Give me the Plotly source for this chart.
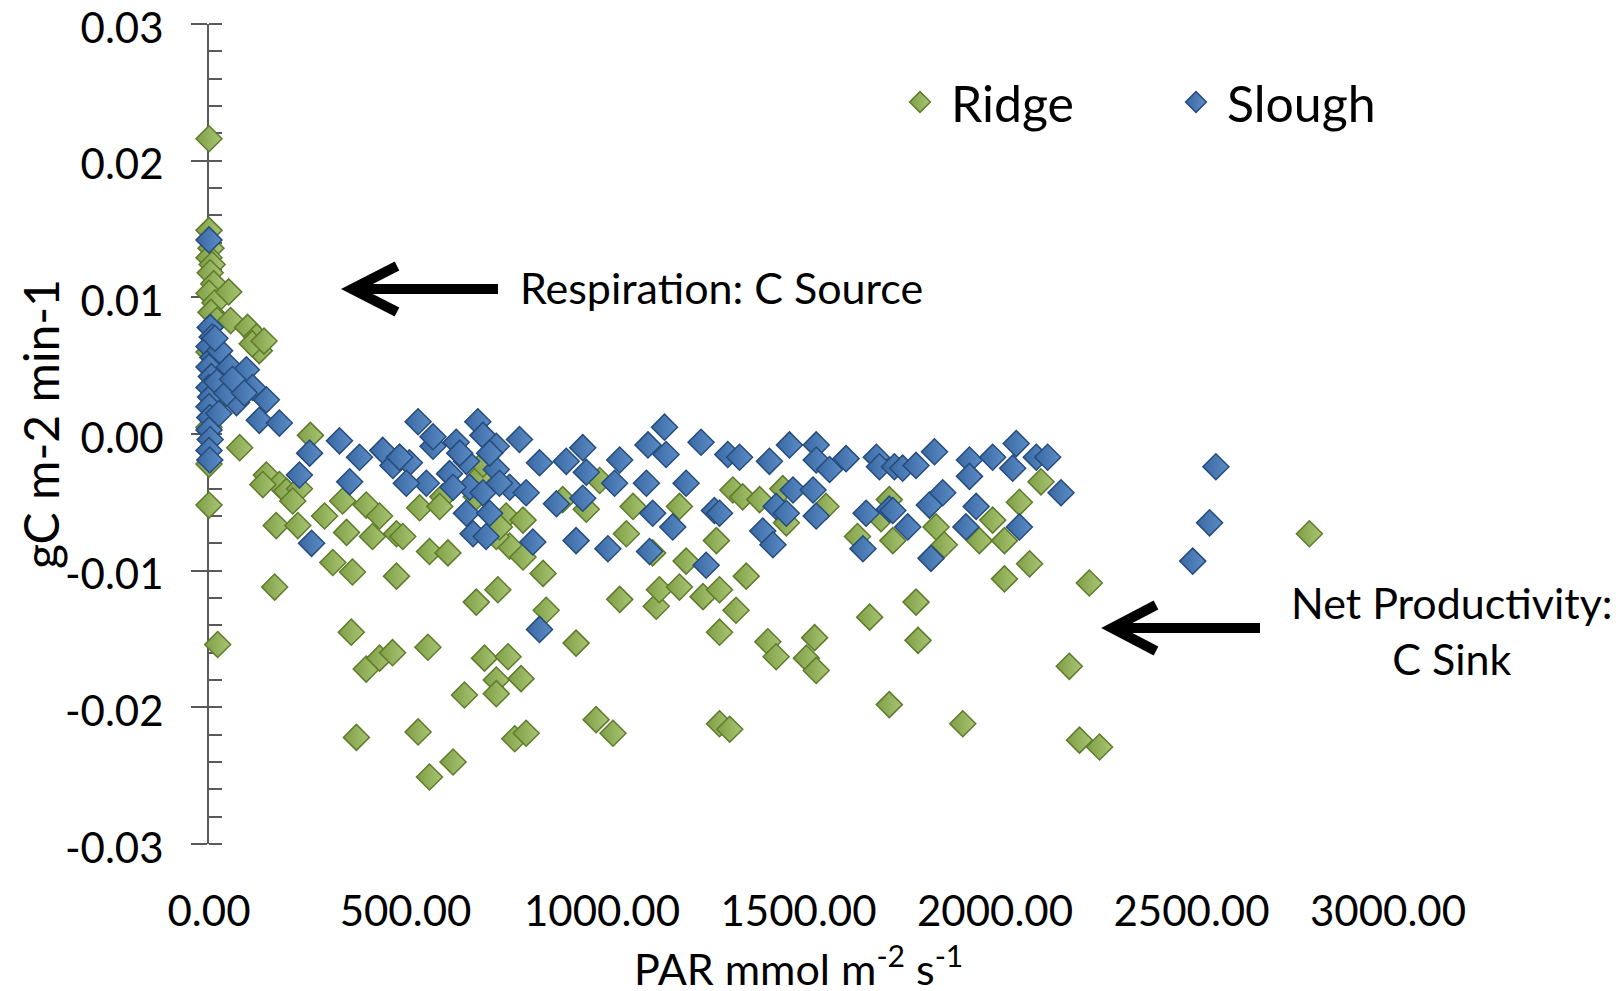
import plotly.graph_objects as go

# ---------------- data ----------------
ridge_par = [
    0, 0, 5, 0, 8, 3, 12, 0, 15, 5, 20, 50, 55, 98, 121, 128, 110, 140, 0, 30,
    10, 0, 0, 0, 22, 78, 258, 146, 179, 137, 197, 230, 213, 171, 226, 294, 340, 350, 400, 434,
    477, 416, 315, 365, 477, 167, 362, 400, 434, 467, 375,
    536, 493, 561, 608, 680, 735, 850, 858, 756, 765, 799, 595, 557, 701, 761, 731, 794, 650, 731, 532,
    621, 561, 778, 807, 934, 985, 1028, 1045, 1138, 1146, 1197, 1257, 1299, 1341, 1299, 1291, 1367, 1299, 1325, 1422,
    1443, 1541, 1520, 1545, 1681, 1731, 1740, 1731, 1079, 1062, 1129, 1197, 1214, 1333, 1358, 1401, 1469, 1570, 994, 680,
    731, 799, 587, 739, 689, 697, 1460, 1710, 1650, 900, 960,
    2117, 2062, 1850, 1871, 1960, 1994, 2024, 2088, 2024, 2240, 1799, 1804, 2189, 1918, 2215, 2266, 2800,
]
ridge_flux = [
    0.0216, 0.0149, 0.0136, 0.0129, 0.0124, 0.0118, 0.0110, 0.0103, 0.0096, 0.0089, 0.0083, 0.0104, 0.0083, 0.0078, 0.0071, 0.0061, 0.0066, 0.0068, 0.0060, 0.0045,
    0.0020, 0.0005, -0.0022, -0.0052, -0.0154, -0.0010, -0.0001, -0.0030, -0.0037, -0.0037, -0.0042, -0.0040, -0.0049, -0.0067, -0.0067, -0.0060, -0.0049, -0.0072, -0.0052, -0.0060,
    -0.0073, -0.0075, -0.0094, -0.0101, -0.0104, -0.0112, -0.0145, -0.0172, -0.0164, -0.0160, -0.0222,
    -0.0054, -0.0075, -0.0086, -0.0087, -0.0123, -0.0114, -0.0102, -0.0129, -0.0060, -0.0082, -0.0090, -0.0046, -0.0156, -0.0164, -0.0163, -0.0180, -0.0179, -0.0191, -0.0190, -0.0218,
    -0.0240, -0.0251, -0.0223, -0.0219, -0.0153, -0.0209, -0.0219, -0.0121, -0.0126, -0.0114, -0.0112, -0.0119, -0.0114, -0.0129, -0.0145, -0.0078, -0.0104, -0.0212, -0.0216, -0.0152,
    -0.0163, -0.0149, -0.0164, -0.0173, -0.0134, -0.0198, -0.0078, -0.0048, -0.0053, -0.0073, -0.0087, -0.0053, -0.0093, -0.0041, -0.0046, -0.0048, -0.0065, -0.0053, -0.0034, -0.0046,
    -0.0075, -0.0063, -0.0053, -0.0068, -0.0031, -0.0022, -0.0040, -0.0062, -0.0075, -0.0048, -0.0055,
    -0.0035, -0.0050, -0.0068, -0.0081, -0.0078, -0.0063, -0.0078, -0.0095, -0.0106, -0.0109, -0.0123, -0.0151, -0.0170, -0.0212, -0.0224, -0.0229, -0.0073,
]

slough_par = [
    0, 3, 8, 0, 10, 0, 6, 0, 4, 0, 2, 0, 3, 0, 2, 27, 52, 95, 111, 146,
    70, 128, 179, 20, 25, 45, 15, 60, 90,
    256, 230, 332, 383, 358, 442, 468, 261, 485,
    532, 684, 570, 629, 697, 731, 790, 841, 909, 951, 960, 1045, 1117, 1159, 1163, 1252, 1320, 1350, 1426, 1477,
    1545, 1545, 1579, 1621, 1698, 1706, 1744, 510, 553, 502, 612, 655, 663, 731, 765, 807, 655, 714, 672, 705,
    884, 951, 824, 934, 1015, 1032, 1113, 1214, 1129, 1180, 1121, 1265, 1286, 1299, 1443, 1469, 1409, 1435, 1486, 1537,
    1545, 1672, 1664, 1731, 841, 570, 485, 638, 714, 621, 697, 739,
    1765, 1799, 1846, 1935, 1935, 1994, 2054, 2105, 2134, 2045, 2168, 1740, 1778, 1833, 1867, 1952, 1926, 2062, 1837,
    2562, 2546, 2503,
]
slough_flux = [
    0.0142, 0.0078, 0.0071, 0.0064, 0.0056, 0.0049, 0.0042, 0.0034, 0.0027, 0.0020, 0.0012, 0.0003, -0.0004, -0.0012, -0.0019, 0.0061, 0.0049, 0.0047, 0.0034, 0.0025,
    0.0023, 0.0010, 0.0008, 0.0038, 0.0015, 0.0030, 0.0070, 0.0040, 0.0030,
    -0.0014, -0.0030, -0.0005, -0.0017, -0.0035, -0.0012, -0.0023, -0.0080, -0.0017,
    0.0009, 0.0009, -0.0009, -0.0006, -0.0001, -0.0009, -0.0004, -0.0021, -0.0020, -0.0010, -0.0028, -0.0019, -0.0008, 0.0005, -0.0015, -0.0006, -0.0015, -0.0017, -0.0020, -0.0008,
    -0.0008, -0.0019, -0.0026, -0.0018, -0.0017, -0.0024, -0.0024, -0.0021, -0.0036, -0.0036, -0.0029, -0.0020, -0.0039, -0.0026, -0.0039, -0.0043, -0.0058, -0.0058, -0.0073, -0.0075,
    -0.0051, -0.0047, -0.0079, -0.0078, -0.0084, -0.0036, -0.0036, -0.0036, -0.0058, -0.0068, -0.0086, -0.0096, -0.0056, -0.0058, -0.0053, -0.0058, -0.0071, -0.0081, -0.0041, -0.0041,
    -0.0060, -0.0058, -0.0084, -0.0055, -0.0143, -0.0002, -0.0017, -0.0014, -0.0014, -0.0039, -0.0043, -0.0036,
    -0.0025, -0.0023, -0.0013, -0.0019, -0.0031, -0.0017, -0.0007, -0.0017, -0.0017, -0.0025, -0.0043, -0.0056, -0.0068, -0.0052, -0.0043, -0.0053, -0.0068, -0.0068, -0.0091,
    -0.0024, -0.0065, -0.0093,
]

x_tick_vals = [0, 500, 1000, 1500, 2000, 2500, 3000]
x_tick_text = ["0.00", "500.00", "1000.00", "1500.00", "2000.00", "2500.00", "3000.00"]
y_tick_vals = [-0.03, -0.02, -0.01, 0.0, 0.01, 0.02, 0.03]
y_tick_text = ["-0.03", "-0.02", "-0.01", "0.00", "0.01", "0.02", "0.03"]

series_names = ["Ridge", "Slough"]
x_title = "PAR mmol m<sup>-2</sup> s<sup>-1</sup>"
y_title = "gC m-2 min-1"
note_resp = "Respiration: C Source"
note_net = "Net Productivity:<br>C Sink"

# ---------------- styling ----------------
FONT = "Lato"
AXIS_COL = "#595959"
TICK_SIZE = 42

fig = go.Figure()
fig.add_trace(go.Scatter(
    x=ridge_par, y=ridge_flux, mode="markers", name=series_names[0], legend="legend",
    cliponaxis=False,
    marker=dict(symbol="diamond", size=20, color="#7e9e45",
                gradient=dict(type="horizontal", color="#aac574"),
                line=dict(color="#5e7c2c", width=1.5)),
))
fig.add_trace(go.Scatter(
    x=slough_par, y=slough_flux, mode="markers", name=series_names[1], legend="legend2",
    cliponaxis=False,
    marker=dict(symbol="diamond", size=20, color="#3867a1",
                gradient=dict(type="horizontal", color="#5d8dc6"),
                line=dict(color="#264c7c", width=1.5)),
))

# plot area in pixels: x 209..1388, y 24..844
L, R, T, B = 209, 236, 24, 147
W, H = 1624, 991
pw, ph = W - L - R, H - T - B


def px(xp):
    return (xp - L) / pw


def py(yp):
    return (H - B - yp) / ph


def arrow_path(tip, tail, arm1, arm2):
    return (f"M {px(tail[0])} {py(tail[1])} L {px(tip[0])} {py(tip[1])} "
            f"M {px(arm1[0])} {py(arm1[1])} L {px(tip[0])} {py(tip[1])} L {px(arm2[0])} {py(arm2[1])}")


shapes = [
    dict(type="path", xref="paper", yref="paper",
         path=arrow_path((352, 289), (498, 289), (397, 266), (397, 312)),
         line=dict(color="black", width=10)),
    dict(type="path", xref="paper", yref="paper",
         path=arrow_path((1112, 628), (1260, 628), (1156, 605), (1156, 651)),
         line=dict(color="black", width=10)),
]

annotations = [
    dict(text=note_resp, xref="paper", yref="paper", x=px(518), y=py(288),
         xanchor="left", yanchor="middle", showarrow=False, font=dict(size=43, family=FONT, color="black")),
    dict(text=note_net, xref="paper", yref="paper", x=px(1452), y=py(630),
         xanchor="center", yanchor="middle", align="center", showarrow=False,
         font=dict(size=43, family=FONT, color="black")),
    dict(text=y_title, xref="paper", yref="paper", x=px(40), y=py(424), textangle=-90,
         xanchor="center", yanchor="middle", showarrow=False, font=dict(size=48, family=FONT, color="black")),
    dict(text=x_title, xref="paper", yref="paper", x=px(798), y=py(966),
         xanchor="center", yanchor="middle", showarrow=False, font=dict(size=43, family=FONT, color="black")),
]

fig.update_layout(
    width=W, height=H,
    margin=dict(l=L, r=R, t=T, b=B, autoexpand=False),
    paper_bgcolor="white", plot_bgcolor="white",
    font=dict(family=FONT, color="black"),
    showlegend=True,
    xaxis=dict(range=[0, 3000], tickvals=x_tick_vals, ticktext=x_tick_text, automargin=False,
               showgrid=False, zeroline=False, showline=False, ticks="",
               tickfont=dict(size=TICK_SIZE, family=FONT, color="black"), ticklabelstandoff=39,
               ticklabeloverflow="allow", layer="below traces"),
    xaxis2=dict(overlaying="x", anchor="free", position=0.5, range=[0, 3000], automargin=False,
                tickvals=x_tick_vals, showticklabels=False, showgrid=False, zeroline=False,
                showline=True, linecolor=AXIS_COL, linewidth=2,
                ticks="outside", ticklen=17, tickwidth=2, tickcolor=AXIS_COL,
                layer="below traces"),
    yaxis=dict(range=[-0.03, 0.03], tickvals=y_tick_vals, ticktext=y_tick_text, automargin=False,
               showgrid=False, zeroline=False, showline=True, linecolor=AXIS_COL, linewidth=2,
               ticks="outside", ticklen=16, tickwidth=2, tickcolor=AXIS_COL,
               minor=dict(ticks="inside", ticklen=13, dtick=0.002, tick0=0, tickwidth=2,
                          tickcolor=AXIS_COL, showgrid=False),
               tickfont=dict(size=TICK_SIZE, family=FONT, color="black"), ticklabelstandoff=19,
               ticklabelshift=4, ticklabeloverflow="allow", layer="below traces"),
    yaxis2=dict(overlaying="y", range=[-0.03, 0.03], tickvals=y_tick_vals, automargin=False,
                showticklabels=False, showgrid=False, zeroline=False, showline=False,
                ticks="inside", ticklen=16, tickwidth=2, tickcolor=AXIS_COL,
                layer="below traces"),
    legend=dict(x=px(889), y=py(102), xanchor="left", yanchor="middle", itemwidth=52,
                font=dict(size=50, family=FONT, color="black"), bgcolor="rgba(0,0,0,0)"),
    legend2=dict(x=px(1165), y=py(102), xanchor="left", yanchor="middle", itemwidth=52,
                 font=dict(size=50, family=FONT, color="black"), bgcolor="rgba(0,0,0,0)"),
    shapes=shapes,
    annotations=annotations,
)

fig.write_html("out.html")
